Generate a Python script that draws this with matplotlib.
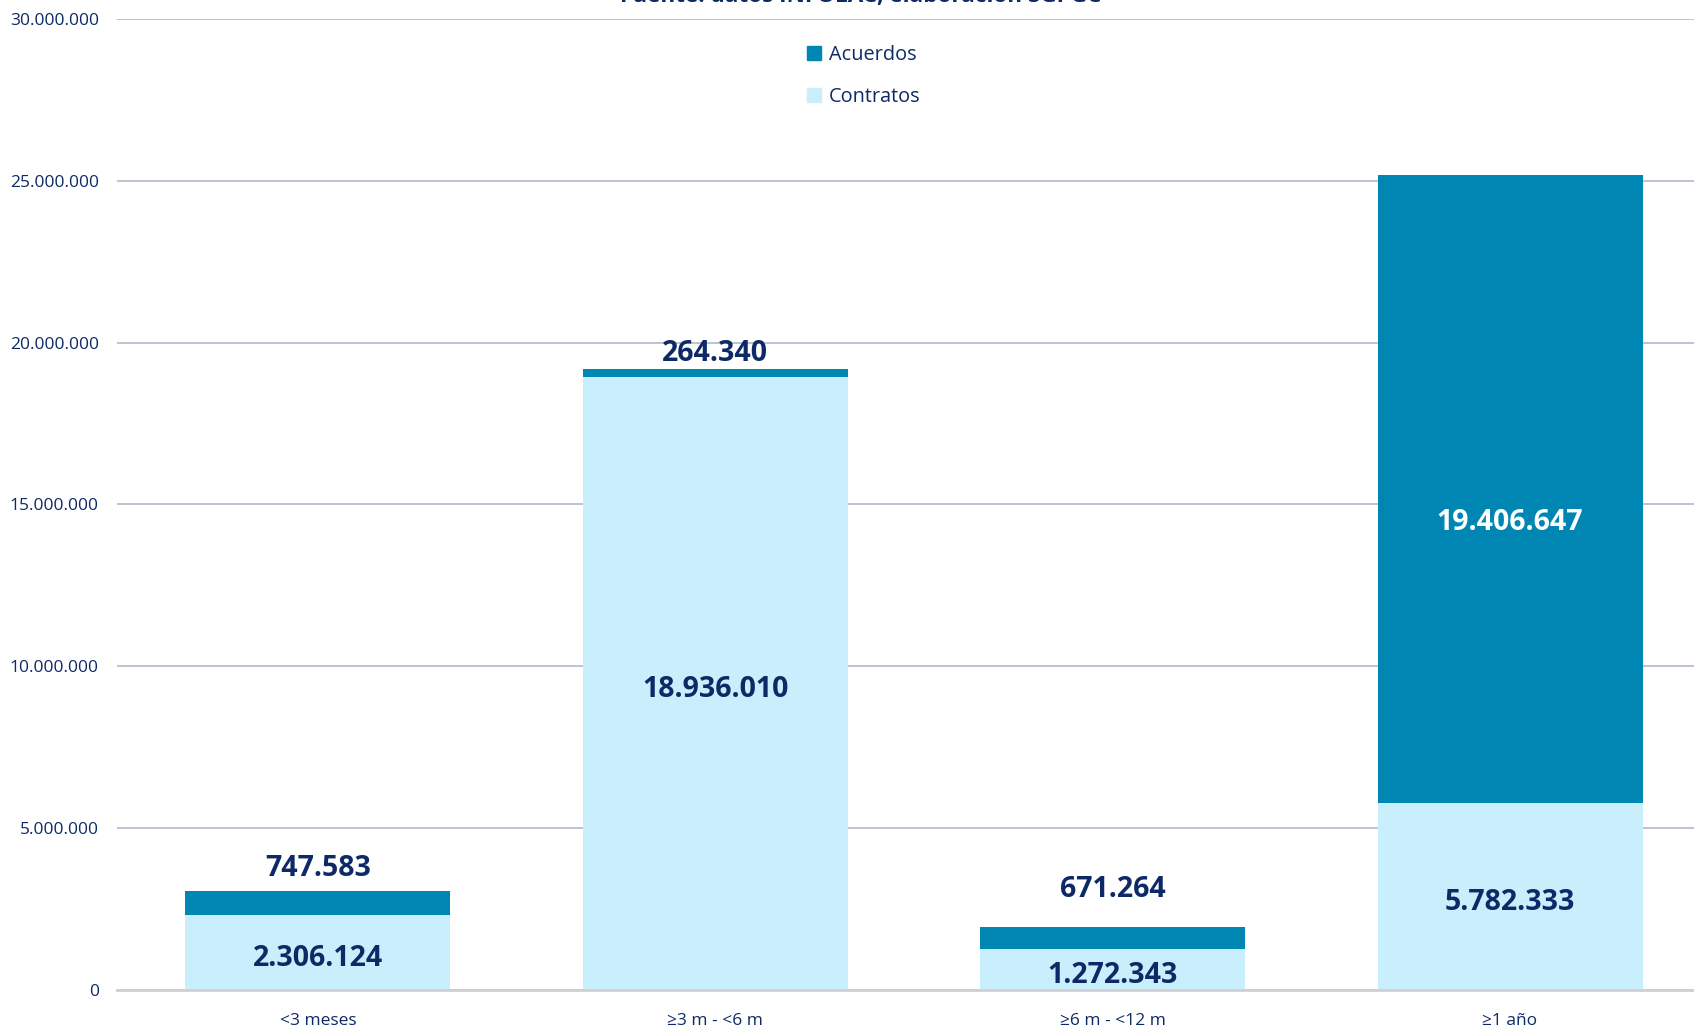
import matplotlib
matplotlib.use("Agg")
import matplotlib.pyplot as plt
from matplotlib.ticker import FuncFormatter
from matplotlib.patches import Patch

categories = ["<3 meses", "≥3 m - <6 m", "≥6 m - <12 m", "≥1 año"]
contratos = [2306124, 18936010, 1272343, 5782333]
acuerdos = [747583, 264340, 671264, 19406647]
yticks = [0, 5000000, 10000000, 15000000, 20000000, 25000000, 30000000]

C_ACU = "#0086B3"
C_CON = "#C9EFFC"
C_TXT = "#0D2A66"
C_GRID = "#A9B3C8"

plt.rcParams['font.family'] = ['Open Sans', 'DejaVu Sans']

fig = plt.figure(figsize=(16.94, 10.30), dpi=100)
ax = fig.add_axes([0.069, 0.0388, 0.931, 0.9428])

x = list(range(len(categories)))
w = 0.667
ax.bar(x, contratos, width=w, color=C_CON, zorder=3, label="Contratos")
ax.bar(x, acuerdos, width=w, bottom=contratos, color=C_ACU, zorder=3, label="Acuerdos")

ax.set_xlim(-0.506, 3.463)
ax.set_ylim(0, 30000000)
ax.set_yticks(yticks)
ax.yaxis.set_major_formatter(FuncFormatter(lambda v, p: f"{int(v):,}".replace(",", ".")))
ax.grid(axis='y', color=C_GRID, linewidth=1.1, zorder=0)
for s in ['top', 'right', 'left']:
    ax.spines[s].set_visible(False)
ax.spines['bottom'].set_color("#D0D0D0")
ax.spines['bottom'].set_linewidth(2)
ax.spines['bottom'].set_zorder(4)
ax.tick_params(axis='both', length=0, colors=C_TXT, labelsize=12.5)
ax.tick_params(axis='y', pad=13)
ax.tick_params(axis='x', pad=16.5)
ax.set_xticks(x)
ax.set_xticklabels(categories)

fmt = lambda v: f"{v:,}".replace(",", ".")
LFS = 20.5
# contratos labels centered in segment
for i, v in enumerate(contratos):
    ax.annotate(fmt(v), (i, v / 2), xytext=(0, -4.5), textcoords='offset points',
                ha='center', va='center', fontsize=LFS,
                fontweight='bold', color=C_TXT, zorder=5)
# acuerdos labels (last one inside the bar)
acu_offsets = [16, 11, 27, None]
for i, v in enumerate(acuerdos):
    top = contratos[i] + v
    if acu_offsets[i] is None:
        ax.annotate(fmt(v), (i, contratos[i] + v / 2), xytext=(0, -24),
                    textcoords='offset points', ha='center', va='center', fontsize=LFS,
                    fontweight='bold', color='white', zorder=5)
    else:
        ax.annotate(fmt(v), (i, top), xytext=(0, acu_offsets[i]), textcoords='offset points',
                    ha='center', va='center', fontsize=LFS, fontweight='bold',
                    color=C_TXT, zorder=5)

handles = [Patch(color=C_ACU, label="Acuerdos"), Patch(color=C_CON, label="Contratos")]
leg = fig.legend(handles=handles, loc='upper center', bbox_to_anchor=(0.51, 0.974),
                 frameon=False, fontsize=14.3, handlelength=0.7, handleheight=0.7,
                 handletextpad=0.4, labelspacing=1.12, labelcolor=C_TXT)

fig.text(0.508, 1.003, "Fuente: datos INFOLAC, elaboración SGPGC", ha='center', va='center',
         fontsize=16.2, fontweight='bold', color=C_TXT)

fig.savefig("out.png", dpi=100)
